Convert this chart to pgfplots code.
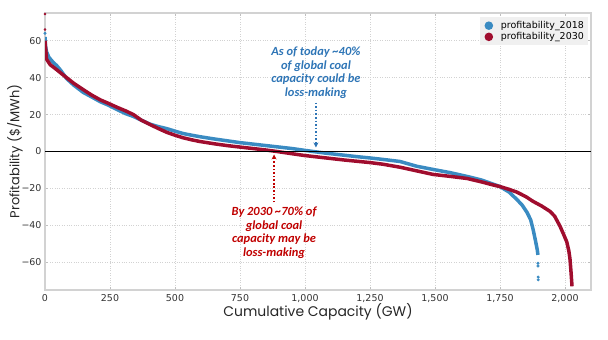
\documentclass[border=0pt]{standalone}
\usepackage{pgfplots}
\pgfplotsset{compat=1.18}
\usepackage{fontspec}
\setmainfont{DejaVu Sans}
\newfontfamily\labfont{Poppins}
\newfontfamily\annfont{Carlito}
\usetikzlibrary{arrows.meta}
\definecolor{cblue}{RGB}{58,139,194}
\definecolor{cred}{RGB}{160,13,46}
\definecolor{tblue}{RGB}{46,117,182}
\definecolor{tred}{RGB}{192,0,0}
\pgfplotstableread{
x y
0 62
2 57
6 54
15 51
30 48.5
45 46.5
60 44
83 39.5
110 36
147 32
180 29.5
212 27
245 25
276 22.8
310 20.5
340 19
370 17
404 14.8
435 13.5
468 12.4
500 11
532 9.7
565 8.8
596 8
650 6.8
700 5.8
750 4.8
800 4
850 3.2
900 2.4
950 1.6
1000 0.6
1031 0
1080 -0.9
1150 -2
1200 -2.8
1250 -3.5
1300 -4.3
1365 -5.4
1430 -8
1492 -9.7
1560 -11.5
1623 -13.5
1680 -15.5
1720 -17.5
1750 -19
1785 -22
1815 -26
1835 -29
1854 -33
1868 -37
1877 -42
1886 -48
1893 -53
1896 -56
}\blue
\pgfplotstableread{
x y
0 60
3 55
6 50
20 47
45 44.3
65 42
83 40
110 37
147 33.5
180 30.5
212 28
245 26
276 24
310 22
340 20
370 17
404 14.6
435 12.5
468 10.4
500 8.8
532 7.4
565 6.3
596 5.4
650 4.2
700 3.2
750 2.4
800 1.6
850 0.8
892 0
950 -1.2
1000 -2.2
1050 -3
1100 -3.8
1150 -4.6
1200 -5.3
1250 -6
1300 -6.9
1365 -8.5
1430 -10.5
1492 -12.4
1560 -13.5
1623 -14.6
1680 -16.5
1720 -18
1750 -19
1785 -20.5
1815 -22
1850 -24.5
1877 -27
1910 -29.5
1942 -32.4
1960 -35
1981 -40.5
1995 -45
2007 -49
2015 -54
2019 -58
2023 -65
2027 -73
}\red
\begin{document}
\begin{tikzpicture}
\useasboundingbox (0,0) rectangle (608bp,340bp);
\begin{axis}[
  at={(45bp,50bp)}, anchor=south west,
  scale only axis, width=546bp, height=277bp,
  xmin=0, xmax=2100, ymin=-75, ymax=75,
  xtick={0,250,500,750,1000,1250,1500,1750,2000},
  xticklabels={0,250,500,750,{1,000},{1,250},{1,500},{1,750},{2,000}},
  ytick={-60,-40,-20,0,20,40,60},
  yticklabels={−60,−40,−20,0,20,40,60},
  tick label style={font=\fontsize{9.5}{12}\selectfont, text=black!80},
  xticklabel style={yshift=-1bp},
  grid=major,
  major grid style={dotted, color=gray!35, line width=0.6bp},
  axis line style={color=gray!35, line width=1.3bp},
  tick style={color=gray!50, line width=0.8bp},
  major tick length=3bp,
  tick align=inside,
  xlabel={\labfont Cumulative Capacity (GW)},
  ylabel={\labfont Profitability (\$/MWh)},
  xlabel style={at={(axis description cs:0.5,-0.079)}, anchor=center, font=\fontsize{14}{16}\selectfont, text=black!85},
  ylabel style={at={(axis description cs:-0.055,0.5)}, anchor=center, font=\fontsize{13}{15}\selectfont, text=black!85},
  legend style={at={(0.9945,0.985)}, anchor=north east, fill=gray!12, draw=none, font=\fontsize{9.5}{12}\selectfont, row sep=-1.5bp, inner sep=2bp},
  legend cell align=left,
]
\addlegendimage{legend image code/.code={\path[draw=none,fill=none] (0,0) rectangle (17bp,0); \path[fill=cblue,draw=none] (7bp,0) circle (4.3bp);}}
\addlegendentry{profitability\_2018}
\addlegendimage{legend image code/.code={\path[draw=none,fill=none] (0,0) rectangle (17bp,0); \path[fill=cred,draw=none] (7bp,0) circle (4.3bp);}}
\addlegendentry{profitability\_2030}
\addplot[forget plot, color=cblue, line width=3.5bp, line join=round] table[x=x,y=y] {\blue};
\addplot[forget plot, only marks, mark=*, mark size=1.3bp, color=cblue] coordinates {(1896,-60.5) (1896,-62) (1897,-68) (1897,-69.5) (0,64)};
\addplot[forget plot, color=cred, line width=3.5bp, line join=round] table[x=x,y=y] {\red};
\addplot[forget plot, only marks, mark=*, mark size=1.1bp, color=cred] coordinates {(0,74.5) (0,66)};
\addplot[forget plot, black, line width=1.5bp] coordinates {(0,0) (2100,0)};
\draw[tblue, dotted, line width=1.6bp, -{Stealth[length=5bp,width=5bp]}] (axis cs:1042,26.5) -- (axis cs:1042,2.2);
\draw[tred, dotted, line width=1.6bp, -{Stealth[length=5bp,width=5bp]}] (axis cs:881,-27.6) -- (axis cs:881,-1.6);
\node[align=center, text=tblue, font=\annfont\bfseries\itshape\fontsize{12.5}{13.5}\selectfont] at (axis cs:1042,42.7) {As of today \textasciitilde40\%\\of global coal\\capacity could be\\loss-making};
\node[align=center, text=tred, font=\annfont\bfseries\itshape\fontsize{12.5}{13.5}\selectfont] at (axis cs:881,-44) {By 2030 \textasciitilde70\% of\\global coal\\capacity may be\\loss-making};
\end{axis}
\end{tikzpicture}
\end{document}
